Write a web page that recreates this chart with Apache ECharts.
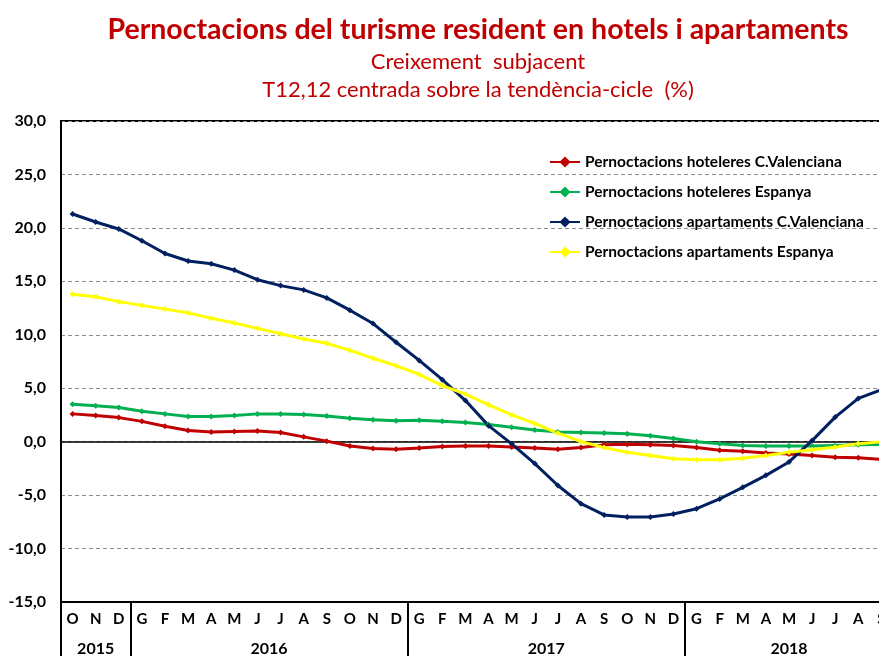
<!DOCTYPE html>
<html>
<head>
<meta charset="utf-8">
<script src="https://cdn.jsdelivr.net/npm/echarts@6/dist/echarts.min.js"></script>
<style>
html, body { margin: 0; padding: 0; background: #fff; }
#panel { width: 879px; height: 656px; }
</style>
</head>
<body>
<div id="panel"></div>
<script>
var months = ['O','N','D',
    'G','F','M','A','M','J','J','A','S','O','N','D',
    'G','F','M','A','M','J','J','A','S','O','N','D',
    'G','F','M','A','M','J','J','A','S'];
var years = ['2015', '2016', '2017', '2018'];
var yearMonths = [3, 12, 12, 9];

var seriesNames = [
    'Pernoctacions hoteleres C.Valenciana',
    'Pernoctacions hoteleres Espanya',
    'Pernoctacions apartaments C.Valenciana',
    'Pernoctacions apartaments Espanya'
];
var hotelsCV = [2.6, 2.45, 2.25, 1.9, 1.45, 1.05, 0.9, 0.95, 1.0, 0.85, 0.45, 0.05,
    -0.4, -0.65, -0.7, -0.6, -0.45, -0.4, -0.4, -0.5, -0.6, -0.7, -0.55, -0.3,
    -0.25, -0.3, -0.35, -0.55, -0.8, -0.9, -1.05, -1.15, -1.3, -1.45, -1.5, -1.65];
var hotelsES = [3.5, 3.35, 3.2, 2.85, 2.6, 2.35, 2.35, 2.45, 2.6, 2.6, 2.55, 2.4,
    2.2, 2.05, 1.95, 2.0, 1.9, 1.8, 1.6, 1.35, 1.1, 0.9, 0.85, 0.8,
    0.75, 0.55, 0.3, 0.0, -0.2, -0.35, -0.4, -0.4, -0.4, -0.35, -0.3, -0.25];
var apartCV = [21.3, 20.55, 19.9, 18.8, 17.6, 16.9, 16.65, 16.05, 15.15, 14.6, 14.2, 13.45,
    12.3, 11.05, 9.3, 7.6, 5.8, 3.85, 1.5, -0.2, -2.05, -4.1, -5.8, -6.85,
    -7.05, -7.05, -6.77, -6.27, -5.36, -4.27, -3.15, -1.9, 0.1, 2.3, 4.05, 4.86];
var apartES = [13.8, 13.55, 13.1, 12.75, 12.4, 12.05, 11.55, 11.1, 10.6, 10.1, 9.6, 9.2,
    8.55, 7.8, 7.1, 6.3, 5.25, 4.45, 3.45, 2.5, 1.7, 0.8, 0.0, -0.55,
    -1.0, -1.3, -1.6, -1.7, -1.7, -1.55, -1.3, -1.0, -0.75, -0.5, -0.2, 0.0];
var seriesColors = ['#C00000', '#00B050', '#002060', '#FFFF00'];

var FONT = 'Lato';
var myChart;

// first month of each year (for separators) and centre of each year (for labels)
var yearStarts = [];
var yearCenters = [];
(function()
{
    var acc = 0;
    for (var i = 0; i < yearMonths.length; i++)
    {
        yearStarts.push(acc);
        yearCenters.push(acc + yearMonths[i] / 2);
        acc += yearMonths[i];
    }
})();

function makeSeries(name, data, color)
{
    return {
        name: name,
        type: 'line',
        data: data,
        symbol: 'diamond',
        symbolSize: 6,
        lineStyle: { color: color, width: 3 },
        itemStyle: { color: color },
        animation: false
    };
}

myChart = echarts.init(document.getElementById('panel'));
myChart.setOption({
    backgroundColor: '#fff',
    textStyle: { fontFamily: FONT },
    title: [
        {
            text: 'Pernoctacions del turisme resident en hotels i apartaments',
            left: 473, top: 10, textAlign: 'center',
            textStyle: { color: '#C00000', fontSize: 28.5, fontWeight: 'bold', fontFamily: FONT }
        },
        {
            text: 'Creixement  subjacent',
            left: 473, top: 46, textAlign: 'center',
            textStyle: { color: '#C00000', fontSize: 22, fontWeight: 'normal', fontFamily: FONT }
        },
        {
            text: 'T12,12 centrada sobre la tendència-cicle  (%)',
            left: 473, top: 74, textAlign: 'center',
            textStyle: { color: '#C00000', fontSize: 22, fontWeight: 'normal', fontFamily: FONT }
        }
    ],
    legend: {
        orient: 'vertical',
        left: 544, top: 149,
        itemWidth: 30, itemHeight: 14,
        itemGap: 14,
        data: seriesNames,
        textStyle: { color: '#000', fontSize: 15.5, lineHeight: 14, fontWeight: 'bold', fontFamily: FONT }
    },
    grid: {
        left: 61, top: 121, right: -14, bottom: 54,
        show: true, borderColor: '#000', borderWidth: 2,
        containLabel: false,
        outerBoundsMode: 'none'
    },
    xAxis: [
        {
            type: 'category',
            data: months,
            position: 'bottom',
            axisLine: { onZero: false, lineStyle: { color: '#000', width: 2 } },
            axisTick: {
                show: true,
                length: 54,
                interval: function(i) { return yearStarts.indexOf(i) >= 0; },
                lineStyle: { color: '#000', width: 2 }
            },
            axisLabel: {
                interval: 0, margin: 10,
                color: '#000', fontSize: 15, fontWeight: 'bold', fontFamily: FONT
            },
            splitLine: { show: false }
        },
        {
            type: 'value',
            min: 0, max: months.length, interval: 0.5,
            position: 'bottom', offset: 30,
            axisLine: { show: false, onZero: false },
            axisTick: { show: false },
            splitLine: { show: false },
            axisLabel: {
                margin: 9,
                color: '#000', fontSize: 16, fontWeight: 'bold', fontFamily: FONT,
                showMinLabel: false, showMaxLabel: false,
                formatter: function(v)
                {
                    var k = yearCenters.indexOf(v);
                    return k >= 0 ? years[k] : '';
                }
            }
        },
        {
            // zero line
            type: 'category',
            data: months,
            position: 'bottom',
            axisLine: { onZero: true, lineStyle: { color: '#000', width: 1.5 } },
            axisTick: { show: false },
            axisLabel: { show: false },
            splitLine: { show: false }
        }
    ],
    yAxis: {
        type: 'value',
        min: -15, max: 30, interval: 5,
        axisLine: { show: true, lineStyle: { color: '#000', width: 2 } },
        axisTick: { show: false },
        axisLabel: {
            margin: 15,
            color: '#000', fontSize: 16, fontWeight: 'bold', fontFamily: FONT,
            formatter: function(v) { return v.toFixed(1).replace('.', ','); }
        },
        splitLine: { show: true, lineStyle: { color: '#8c8c8c', type: [4, 3], width: 1 } }
    },
    series: [
        makeSeries(seriesNames[0], hotelsCV, seriesColors[0]),
        makeSeries(seriesNames[1], hotelsES, seriesColors[1]),
        makeSeries(seriesNames[2], apartCV, seriesColors[2]),
        makeSeries(seriesNames[3], apartES, seriesColors[3])
    ]
});
</script>
</body>
</html>
